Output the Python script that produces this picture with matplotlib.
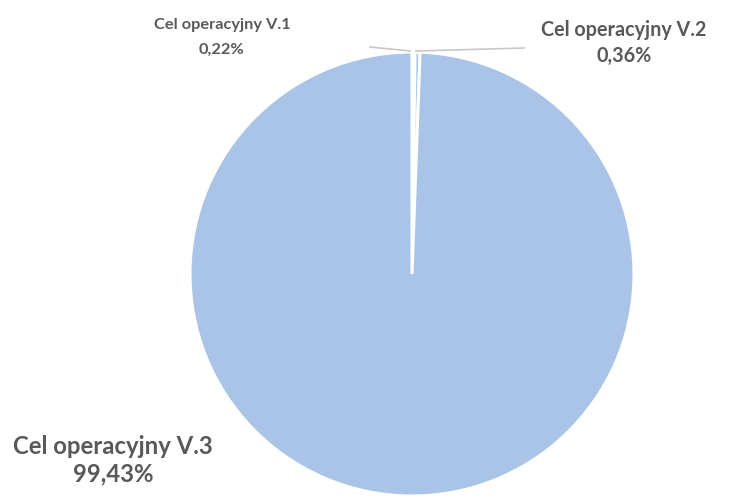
import matplotlib
matplotlib.use("Agg")
import matplotlib.pyplot as plt

categories = ["Cel operacyjny V.1", "Cel operacyjny V.2", "Cel operacyjny V.3"]
values = [0.22, 0.36, 99.43]
value_labels = ["0,22%", "0,36%", "99,43%"]

W, H = 748, 499
fig = plt.figure(figsize=(W / 100, H / 100), dpi=100)
ax = fig.add_axes([0, 0, 1, 1])

def Y(y):
    return H - y

cx, cy, r = 412, 274, 222
colors = ["#A9C4E6", "#A9C4E6", "#A9C4E6"]
wedges, _ = ax.pie(values, colors=colors, startangle=90, counterclock=False,
                   center=(cx, Y(cy)), radius=r, frame=True,
                   wedgeprops=dict(edgecolor="white", linewidth=2.2))
ax.set_xlim(0, W)
ax.set_ylim(0, H)
ax.set_aspect("equal")
ax.axis("off")

# leader lines
ax.plot([370, 410], [Y(47), Y(51)], color="#C8C8C8", lw=1.2)
ax.plot([416, 524], [Y(51), Y(48)], color="#C8C8C8", lw=1.2)

txt = dict(color="#595959", fontweight="bold", family="Lato", ha="center", va="baseline")
label_pos = [(222, 29, 54, 11.8), (624, 36, 62, 14.2), (113, 454, 481, 17.2)]
for cat, vl, (x, b1, b2, fs) in zip(categories, value_labels, label_pos):
    ax.text(x, Y(b1), cat, fontsize=fs, **txt)
    ax.text(x, Y(b2), vl, fontsize=fs, **txt)

fig.savefig("out.png", dpi=100)
